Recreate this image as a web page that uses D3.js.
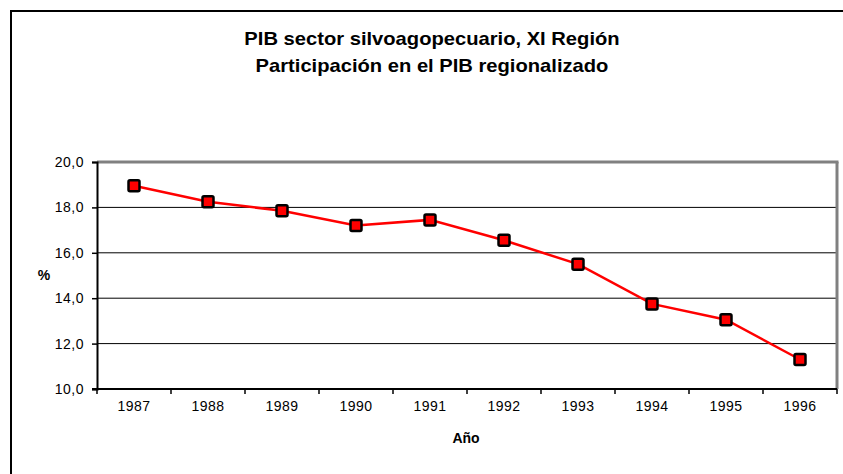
<!DOCTYPE html>
<html>
<head>
<meta charset="utf-8">
<script src="https://cdn.jsdelivr.net/npm/d3@7"></script>
<style>
  body { margin: 0; background: #fff; }
  text { font-family: "Liberation Sans", Arial, sans-serif; fill: #000; }
</style>
</head>
<body>
<svg id="chart" width="843" height="474"></svg>
<script>
  // datos
  const years = ['1987', '1988', '1989', '1990', '1991', '1992', '1993', '1994', '1995', '1996']
  const share = [18.95, 18.25, 17.85, 17.2, 17.45, 16.55, 15.5, 13.75, 13.05, 11.3]
  const yTicks = [10, 12, 14, 16, 18, 20]

  const svg = d3.select('#chart')
  const plotLeft = 97
  const plotRight = 837
  const plotTop = 162
  const plotBottom = 389

  // marco exterior
  svg.append('rect')
    .attr('x', 11).attr('y', 11)
    .attr('width', 850).attr('height', 480)
    .attr('fill', 'none')
    .attr('stroke', '#000')
    .attr('stroke-width', 2)

  // el texto original sale algo ensanchado
  svg.append('text')
    .attr('transform', 'translate(432,45) scale(1.12,1)')
    .attr('text-anchor', 'middle')
    .style('font-size', '18px').style('font-weight', 'bold')
    .text('PIB sector silvoagopecuario, XI Región')
  svg.append('text')
    .attr('transform', 'translate(432,72) scale(1.12,1)')
    .attr('text-anchor', 'middle')
    .style('font-size', '18px').style('font-weight', 'bold')
    .text('Participación en el PIB regionalizado')

  const x = d3.scaleBand().domain(years).range([plotLeft, plotRight])
  const y = d3.scaleLinear().domain([10, 20]).range([plotBottom, plotTop])

  // rejilla
  svg.append('g')
    .selectAll('line')
    .data(yTicks.filter(d => d > 10 && d < 20))
    .join('line')
    .attr('x1', plotLeft).attr('x2', plotRight)
    .attr('y1', d => y(d)).attr('y2', d => y(d))
    .attr('stroke', '#000').attr('stroke-width', 1)

  // borde gris del área
  svg.append('line')
    .attr('x1', plotLeft).attr('x2', plotRight + 1.5)
    .attr('y1', plotTop).attr('y2', plotTop)
    .attr('stroke', '#808080').attr('stroke-width', 3)
  svg.append('line')
    .attr('x1', plotRight).attr('x2', plotRight)
    .attr('y1', plotTop).attr('y2', plotBottom)
    .attr('stroke', '#808080').attr('stroke-width', 3)

  // eje y
  const yAxis = svg.append('g')
    .attr('transform', `translate(${plotLeft},0)`)
    .call(d3.axisLeft(y).tickValues(yTicks).tickSize(5).tickPadding(8)
      .tickFormat(d => d3.format('.1f')(d).replace('.', ',')))
  yAxis.select('.domain').attr('stroke', '#000').attr('stroke-width', 2)
  yAxis.selectAll('.tick line').attr('stroke', '#000').attr('stroke-width', 1.5)
  yAxis.selectAll('text')
    .style('font-family', '"Liberation Sans", Arial, sans-serif')
    .style('font-size', '14px')
    .style('letter-spacing', '0.5px')

  // eje x con marcas entre categorías
  const xAxis = svg.append('g')
    .attr('transform', `translate(0,${plotBottom})`)
    .call(d3.axisBottom(x).tickSize(0).tickPadding(12))
  xAxis.select('.domain').remove()
  xAxis.selectAll('text')
    .style('font-family', '"Liberation Sans", Arial, sans-serif')
    .style('font-size', '14px')
    .style('letter-spacing', '0.5px')
  xAxis.append('line')
    .attr('x1', plotLeft - 5).attr('x2', plotRight)
    .attr('stroke', '#000').attr('stroke-width', 2)
  xAxis.selectAll('.sep')
    .data(years.concat(['end']))
    .join('line')
    .attr('class', 'sep')
    .attr('x1', (d, i) => plotLeft + i * x.step())
    .attr('x2', (d, i) => plotLeft + i * x.step())
    .attr('y1', 0).attr('y2', 5)
    .attr('stroke', '#000').attr('stroke-width', 1.5)

  svg.append('text')
    .attr('x', 44).attr('y', 280)
    .attr('text-anchor', 'middle')
    .style('font-size', '14px').style('font-weight', 'bold')
    .text('%')
  svg.append('text')
    .attr('x', 466).attr('y', 443)
    .attr('text-anchor', 'middle')
    .style('font-size', '14px').style('font-weight', 'bold')
    .text('Año')

  // serie
  const line = d3.line()
    .x((d, i) => x(years[i]) + x.bandwidth() / 2)
    .y(d => y(d))
  svg.append('path')
    .datum(share)
    .attr('d', line)
    .attr('fill', 'none')
    .attr('stroke', '#ff0000')
    .attr('stroke-width', 2.5)

  const m = 11
  svg.append('g')
    .selectAll('rect')
    .data(share)
    .join('rect')
    .attr('x', (d, i) => x(years[i]) + x.bandwidth() / 2 - m / 2)
    .attr('y', d => y(d) - m / 2)
    .attr('width', m).attr('height', m)
    .attr('rx', 1.5)
    .attr('fill', '#ff0000')
    .attr('stroke', '#000')
    .attr('stroke-width', 2.5)
</script>
</body>
</html>
